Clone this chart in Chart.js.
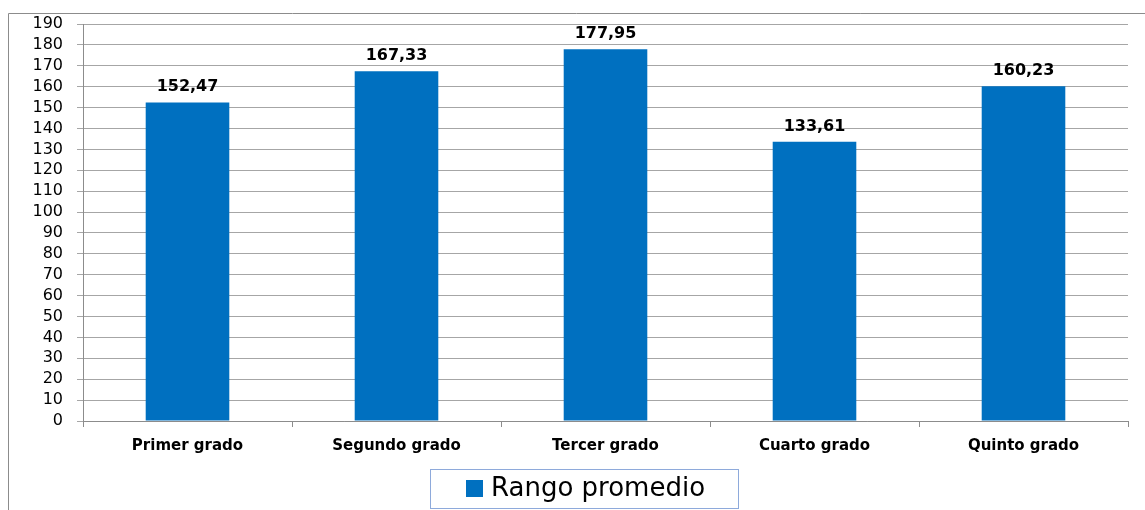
<!DOCTYPE html>
<html><head><meta charset="utf-8">
<script src="https://cdn.jsdelivr.net/npm/chart.js@4/dist/chart.umd.min.js"></script>
<style>html,body{margin:0;padding:0;background:#fff}#wrap{width:1145px;height:510px;position:relative}</style>
</head><body><div id="wrap"><canvas id="c" width="1145" height="510"></canvas></div>
<script>
const categories = ["Primer grado","Segundo grado","Tercer grado","Cuarto grado","Quinto grado"];
const values = [152.47,167.33,177.95,133.61,160.23];
const seriesName = "Rango promedio";
const yMin = 0, yMax = 190, yStep = 10;
const barColor = "#0070C0";
const FONT = "'DejaVu Sans', sans-serif";

const fmt = v => v.toFixed(2).replace('.', ',');

const decor = {
  id: 'decor',
  afterDraw(chart) {
    const ctx = chart.ctx;
    ctx.save();
    ctx.strokeStyle = '#8c8c8c'; ctx.lineWidth = 1;
    ctx.beginPath(); ctx.moveTo(8.5, 510); ctx.lineTo(8.5, 13.5); ctx.lineTo(1145, 13.5); ctx.stroke();
    const meta = chart.getDatasetMeta(0);
    ctx.fillStyle = '#000'; ctx.font = "bold 16px " + FONT;
    ctx.textAlign = 'center'; ctx.textBaseline = 'alphabetic';
    meta.data.forEach((bar, i) => {
      ctx.fillText(fmt(values[i]), bar.x, bar.y - 11);
    });
    const lx = 430.5, ly = 469.5, lw = 308, lh = 39;
    ctx.strokeStyle = '#8eaadb'; ctx.lineWidth = 1;
    ctx.strokeRect(lx, ly, lw, lh);
    ctx.fillStyle = barColor;
    ctx.fillRect(466, 480, 17, 17);
    ctx.fillStyle = '#000'; ctx.font = "26px " + FONT;
    ctx.textAlign = 'left'; ctx.textBaseline = 'middle';
    ctx.fillText(seriesName, 491, 489);
    ctx.restore();
  }
};

new Chart(document.getElementById('c'), {
  type: 'bar',
  data: { labels: categories, datasets: [{ label: seriesName, data: values, backgroundColor: barColor, barPercentage: 0.4, categoryPercentage: 1.0 }] },
  options: {
    responsive: false, animation: false,
    layout: { padding: { top: 24, right: 17, left: 0, bottom: 0 } },
    plugins: { legend: { display: false }, tooltip: { enabled: false } },
    scales: {
      y: {
        min: yMin, max: yMax,
        ticks: { stepSize: yStep, autoSkip: false, color: '#000', font: { family: FONT, size: 16 }, padding: 14 },
        grid: { color: '#a6a6a6', tickLength: 6, tickColor: '#a6a6a6' },
        border: { color: '#8c8c8c' },
        afterFit(s) { s.width = 83; }
      },
      x: {
        ticks: { autoSkip: false, maxRotation: 0, color: '#000', font: { family: FONT, size: 15, weight: 'bold' }, padding: 10 },
        grid: { offset: true, drawOnChartArea: false, tickLength: 6, color: '#8c8c8c' },
        border: { color: '#8c8c8c' },
        afterFit(s) { s.height = 89; }
      }
    }
  },
  plugins: [decor]
});
</script></body></html>
